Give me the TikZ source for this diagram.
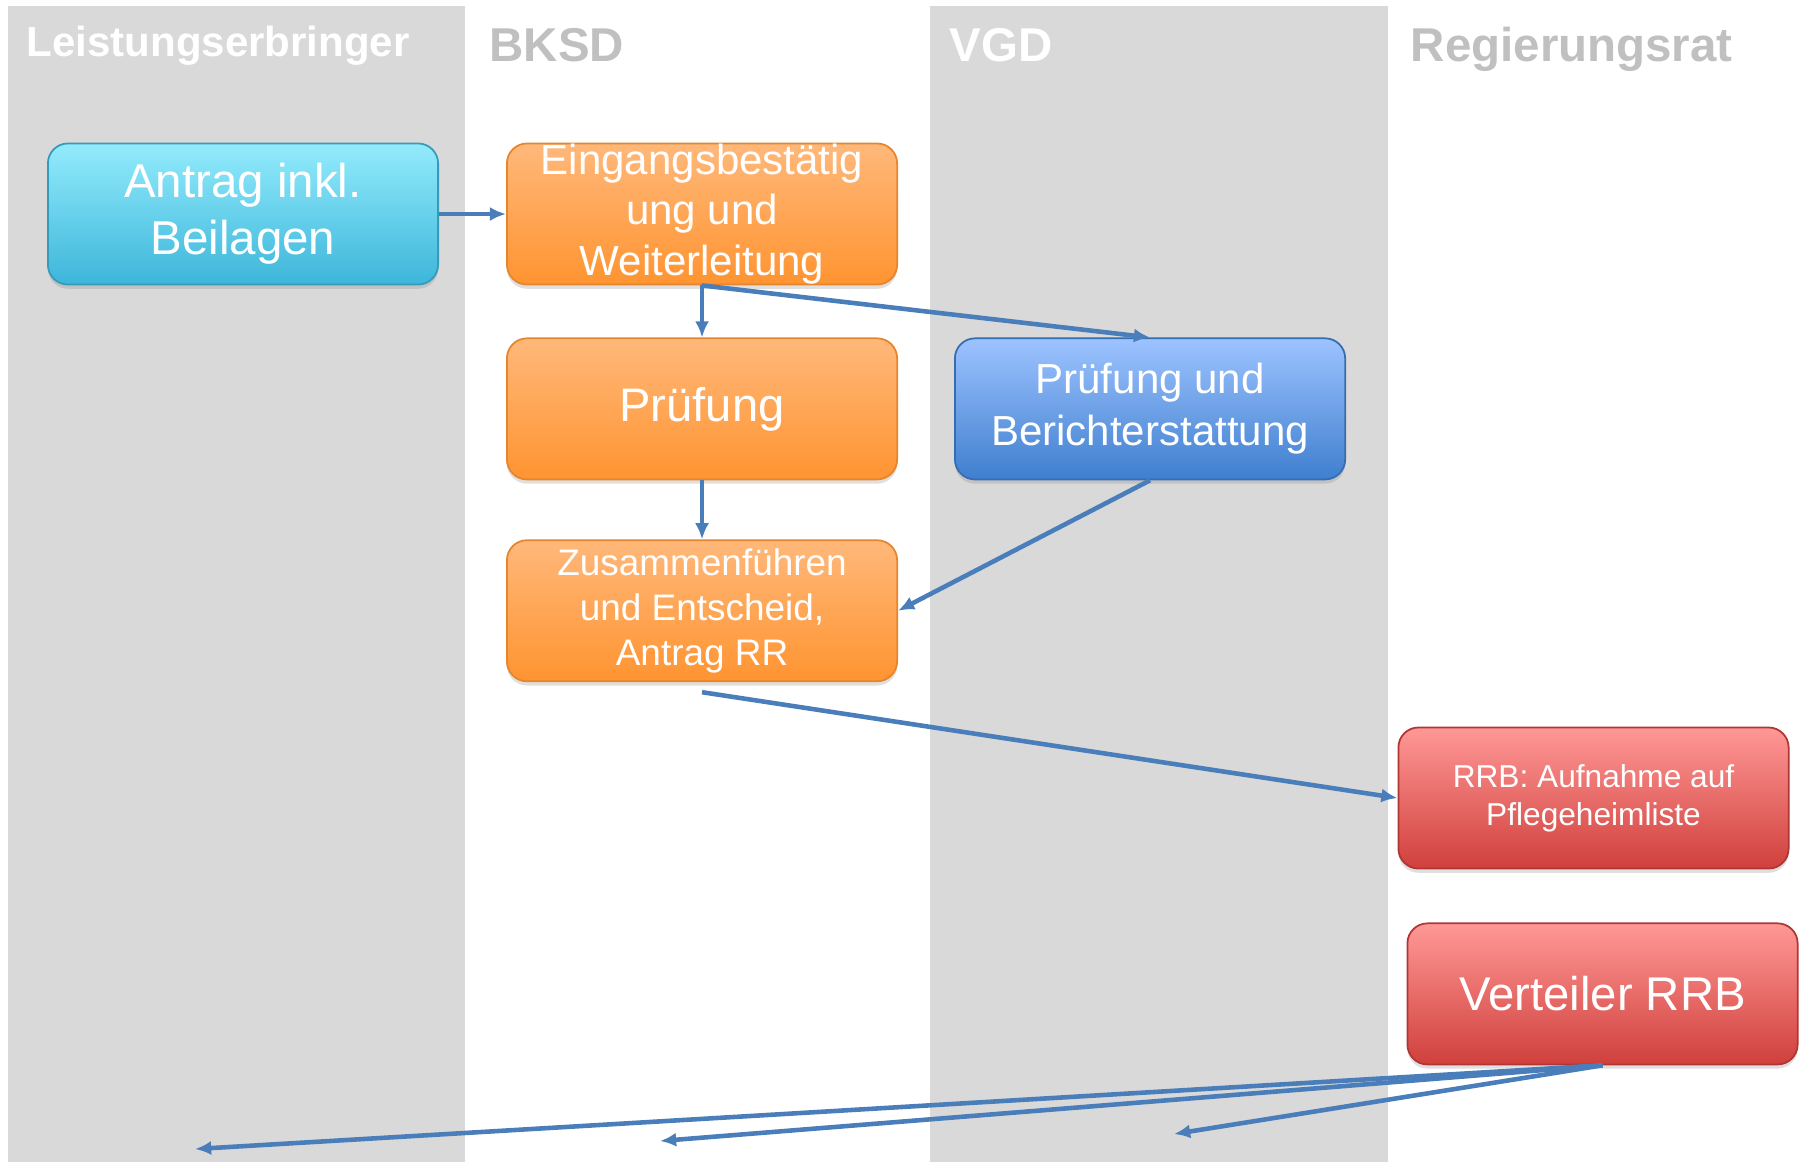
\documentclass[tikz,border=0pt]{standalone}
\usepackage{fontspec}
\setmainfont{Liberation Sans}
\usepackage{tikz}
\usetikzlibrary{arrows.meta,positioning,shadows}
\definecolor{lanegray}{RGB}{217,217,217}
\definecolor{titlegray}{RGB}{192,192,192}
\definecolor{flowblue}{RGB}{74,126,187}
\definecolor{cyantop}{RGB}{147,235,252}
\definecolor{cyanbot}{RGB}{61,182,218}
\definecolor{orangetop}{RGB}{255,184,122}
\definecolor{orangebot}{RGB}{255,148,49}
\definecolor{bluetop}{RGB}{157,195,255}
\definecolor{bluebot}{RGB}{63,127,207}
\definecolor{redtop}{RGB}{255,152,150}
\definecolor{redbot}{RGB}{208,64,60}
\tikzset{
    %Define standard arrow tip
    >={Latex[length=4.6pt,width=4pt]},
    %Define style for lanes
    lane/.style={fill=lanegray},
    lanetitle/.style={
           anchor=base west,
           inner sep=0pt,
           font=\bfseries\fontsize{13.5}{16}\selectfont},
    %Define style for boxes
    flowbox/.style={
           rectangle,
           rounded corners=0.2cm,
           line width=0.5pt,
           minimum width=3.9cm,
           minimum height=1.41cm,
           inner sep=0pt,
           align=center,
           text=white,
           drop shadow={shadow xshift=0pt,shadow yshift=-1.2pt,opacity=0.25}},
    applicant/.style={flowbox, draw=cyanbot!85!black, top color=cyantop, bottom color=cyanbot},
    bksd/.style={flowbox, draw=orangebot!90!black, top color=orangetop, bottom color=orangebot},
    vgd/.style={flowbox, draw=bluebot!85!black, top color=bluetop, bottom color=bluebot},
    council/.style={flowbox, draw=redbot!85!black, top color=redtop, bottom color=redbot},
    % Define arrow style
    flow/.style={
           ->,
           draw=flowblue,
           line width=1.3pt}
}
\begin{document}
\begin{tikzpicture}[x=0.01cm,y=-0.01cm,node distance=0.6cm]
\useasboundingbox (0,0) rectangle (1801,1162);
% lanes
\fill[lane] (8,6) rectangle (465,1162);
\fill[lane] (930,6) rectangle (1388,1162);
\node[lanetitle, text=white, font=\bfseries\fontsize{11.95}{14}\selectfont] (tLE) at (26,56) {Leistungserbringer};
\node[lanetitle, text=titlegray] (tBKSD) at (489,61) {BKSD};
\node[lanetitle, text=white] (tVGD) at (949,61) {VGD};
\node[lanetitle, text=titlegray] (tRR) at (1410,61) {Regierungsrat};
% boxes
\node[applicant, font=\fontsize{13.5}{16.2}\selectfont] (antrag) at (243,214) {Antrag inkl.\\Beilagen};
\node[bksd, right=0.67cm of antrag, font=\fontsize{11.95}{14.4}\selectfont] (eingang) {Eingangsbestätig\\ung und\\Weiterleitung};
\node[bksd, below=0.52cm of eingang, font=\fontsize{13.4}{16}\selectfont] (pruefung) {Prüfung};
\node[vgd, right=0.56cm of pruefung, font=\fontsize{11.95}{14.7}\selectfont] (bericht) {Prüfung und\\Berichterstattung};
\node[bksd, below=0.59cm of pruefung, font=\fontsize{10.5}{12.75}\selectfont] (zusammen) {Zusammenführen\\und Entscheid,\\Antrag RR};
\node[council, font=\fontsize{9}{10.8}\selectfont] (rrb) at (1593.5,798) {RRB: Aufnahme auf\\Pflegeheimliste};
\node[council, below=0.53cm of rrb, xshift=0.09cm, font=\fontsize{13.45}{16}\selectfont] (verteiler) {Verteiler RRB};
% free ends of the distribution arrows
\coordinate (toLE) at (195,1149);
\coordinate (toBKSD) at (660,1141);
\coordinate (toVGD) at (1174,1134);
% connectors
\draw[flow] (antrag) -- (eingang);
\draw[flow] (eingang) -- (pruefung);
\draw[flow] (eingang.south) -- (bericht.north);
\draw[flow] (pruefung) -- (zusammen);
\draw[flow] (bericht.south) -- (zusammen.east);
\draw[flow] ([yshift=-0.1cm]zusammen.south) -- (rrb.west);
\draw[flow] (verteiler.south) -- (toLE);
\draw[flow] (verteiler.south) -- (toBKSD);
\draw[flow] (verteiler.south) -- (toVGD);
\end{tikzpicture}
\end{document}
